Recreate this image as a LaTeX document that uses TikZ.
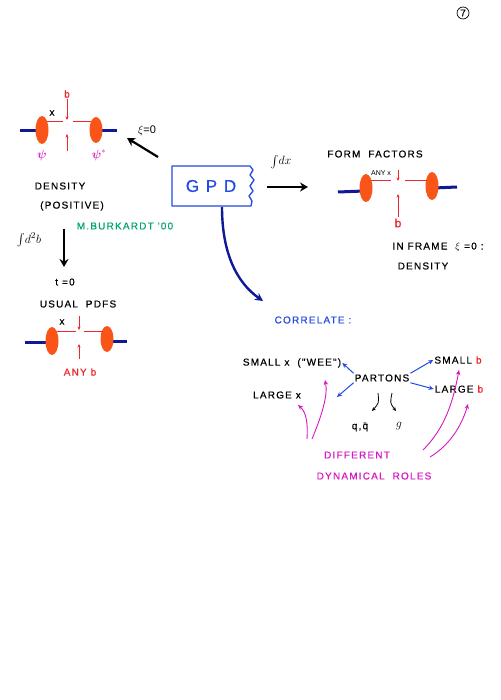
\documentclass[tikz,border=0pt]{standalone}
\usepackage{fontspec}
\setmainfont{Liberation Sans}
\newfontfamily\hand[LetterSpace=12,FakeBold=0.5]{Liberation Sans}
\usepackage{amsmath}
\usetikzlibrary{arrows.meta}
\usetikzlibrary{calc}
\definecolor{qblue}{RGB}{15,25,150}
\definecolor{gblue}{RGB}{35,75,225}
\definecolor{blobc}{RGB}{250,85,25}
\definecolor{rlin}{RGB}{235,40,45}
\definecolor{mgt}{RGB}{215,25,195}
\definecolor{grn}{RGB}{0,165,110}
\tikzset{
  lbl/.style={font=\hand\fontsize{10}{12}\selectfont, inner sep=1pt},
  qline/.style={qblue, line width=3pt},
  blob/.style={fill=blobc},
  rthin/.style={rlin, line width=0.8pt},
  rarr/.style={rlin, line width=0.8pt, -{Stealth[length=3.5pt,width=3pt]}},
  bigarr/.style={black, line width=2.6pt, -{Stealth[length=8pt,width=9pt]}},
  barr/.style={gblue, line width=1pt, -{Stealth[length=5pt,width=4.5pt]}},
  karr/.style={black, line width=0.8pt, -{Stealth[length=4pt,width=3.5pt]}},
  marr/.style={mgt, line width=0.9pt, -{Stealth[length=5pt,width=4.5pt]}}
}
\begin{document}
\begin{tikzpicture}[x=1pt,y=-1pt]
    \useasboundingbox[fill=white] (0,0) rectangle (500,700);
    % page number
    \node[lbl] (pg) at (463,13) {7};
    \draw[line width=0.7pt] (pg.center) circle (6pt);

    % density picture
    \draw[qline] (20,131) -- (40,131);
    \draw[qline] (98,131) -- (117,131);
    \fill[blob] (42,130) ellipse (6.5pt and 14pt);
    \fill[blob] (96,130) ellipse (6.5pt and 13pt);
    \draw[rthin] (47,121) -- (63,121);
    \draw[rthin] (73,121) -- (91,121);
    \node[lbl, rlin] (bA) at (67,94) {b};
    \coordinate (bAtip) at (67,120);
    \coordinate (bAup) at (67,151);
    \coordinate (bAupt) at (67,134);
    \draw[rarr] (bA) -- (bAtip);
    \draw[rarr] (bAup) -- (bAupt);
    \node[lbl] (xA) at (52,113) {x};
    \node[mgt, inner sep=1pt, font=\large] (psiA) at (42,156) {$\boldsymbol{\psi}$};
    \node[mgt, inner sep=1pt, font=\large] (psiB) at (99,155) {$\boldsymbol{\psi}^{*}$};
    \node[lbl, font=\fontsize{11}{12}\selectfont] (xizero) at (147,131) {$\xi$=0};
    \coordinate (xiA) at (158,157);
    \coordinate (xiB) at (127,138);
    \draw[bigarr, line width=2.2pt] (xiA) -- (xiB);
    \node[lbl] (dens) at (60,186) {DENSITY};
    \node[lbl] (posit) at (72,206) {(POSITIVE)};
    \node[lbl, grn] (burk) at (125,226) {M.BURKARDT '00};

    % integral over b
    \node[lbl, font=\fontsize{13}{14}\selectfont] (intb) at (29,240) {$\int\! d^2 b$};
    \coordinate (bdA) at (64,229);
    \coordinate (bdB) at (64,267);
    \draw[bigarr] (bdA) -- (bdB);
    \node[lbl] (tzero) at (65,282) {t =0};
    \node[lbl] (usual) at (78,304) {USUAL \ PDFS};

    % usual pdfs picture
    \draw[qline] (25,342) -- (50,342);
    \draw[qline] (109,341) -- (127,341);
    \fill[blob] (52,341) ellipse (6.5pt and 14pt);
    \fill[blob] (107,339) ellipse (6.5pt and 13pt);
    \draw[rthin] (57,331) -- (76,331);
    \draw[rthin] (84,331) -- (103,331);
    \node[lbl] (xB) at (62,322) {x};
    \coordinate (bBtop) at (79,316);
    \coordinate (bBtip) at (79,330);
    \coordinate (bBup) at (79,359);
    \coordinate (bBupt) at (79,344);
    \draw[rarr] (bBtop) -- (bBtip);
    \draw[rarr] (bBup) -- (bBupt);
    \node[lbl, rlin] (anyb) at (80,372) {ANY b};

    % GPD box
    \node[gblue, font=\hand\fontsize{17}{19}\selectfont, inner sep=0pt] (gpd) at (211,186) {G P D};
    \draw[gblue, line width=1.3pt, line join=round]
        (250,166) -- (172,166) -- (172,206) -- (251,206)
        -- (252,201) -- (249,196) -- (253,191) -- (250,186) -- (254,180)
        -- (250,175) -- (253,170) -- cycle;

    % dx arrow
    \node[lbl, font=\fontsize{12}{13}\selectfont] (intx) at (281,162) {$\int\! dx$};
    \coordinate (dxA) at (267,187);
    \coordinate (dxB) at (308,187);
    \draw[bigarr] (dxA) -- (dxB);

    % form factors picture
    \node[lbl] (ff) at (375,154) {FORM \ FACTORS};
    \draw[qline] (338,192) -- (364,191);
    \draw[qline] (434,188) -- (457,187);
    \fill[blob] (366,188) ellipse (6.5pt and 14pt);
    \fill[blob] (432,186) ellipse (6.5pt and 14pt);
    \draw[rthin] (371,180) -- (391,180);
    \draw[rthin] (405,180) -- (427,180);
    \node[font=\fontsize{7}{8}\selectfont, inner sep=1pt] (anyx) at (381,173) {ANY x};
    \coordinate (bCtop) at (398,170);
    \coordinate (bCtip) at (398,181);
    \draw[rarr] (bCtop) -- (bCtip);
    \node[lbl, rlin, font=\hand\fontsize{12}{13}\selectfont] (bC) at (398,223) {b};
    \coordinate (bCupt) at (398,194);
    \draw[rarr] (bC) -- (bCupt);
    \node[lbl] (frame) at (438,247) {IN FRAME \ $\xi$ =0 :};
    \node[lbl] (dens2) at (423,266) {DENSITY};

    % correlate
    \node[lbl, gblue] (correl) at (313,320) {CORRELATE :};
    \coordinate (gpdout) at (222,207);
    \coordinate (corin) at (263,301);
    \draw[qblue, line width=2.4pt, -{Stealth[length=8pt,width=8pt]}]
        (gpdout) .. controls (222,252) and (236,282) .. (corin);

    \node[lbl] (partons) at (382,378) {PARTONS};
    \node[lbl] (smallx) at (292,363) {SMALL x \ ("WEE")};
    \node[lbl] (largex) at (277,395) {LARGE x};
    \node[lbl] (smallb) at (458,360) {SMALL \textcolor{rlin}{b}};
    \node[lbl] (largeb) at (459,389) {LARGE \textcolor{rlin}{b}};
    \coordinate (lxtip) at (337,397);
    \draw[barr] (partons.north west) -- (smallx.east);
    \draw[barr] (partons.south west) -- (lxtip);
    \draw[barr] (partons.north east) -- (smallb.west);
    \draw[barr] (partons.south east) -- (largeb.west);

    \node[lbl] (qqbar) at (360,427) {q,\={q}};
    \node[lbl, font=\fontsize{13}{14}\selectfont] (glu) at (399,426) {$g$};
    \coordinate (kA) at (378,393);
    \coordinate (kAt) at (372,411);
    \coordinate (kB) at (392,393);
    \coordinate (kBt) at (396,411);
    \draw[karr] (kA) .. controls (379,403) .. (kAt);
    \draw[karr] (kB) .. controls (390,403) .. (kBt);

    % different roles
    \node[lbl, mgt] (diff) at (357,455) {DIFFERENT};
    \node[lbl, mgt] (roles) at (374,476) {DYNAMICAL \ ROLES};
    \coordinate (mA) at (307,439);
    \coordinate (mAt) at (298,405);
    \coordinate (mB) at (312,439);
    \coordinate (mBt) at (325,380);
    \coordinate (mC) at (423,450);
    \coordinate (mCt) at (459,370);
    \coordinate (mD) at (430,457);
    \coordinate (mDt) at (468,404);
    \draw[marr] (mA) .. controls (308,422) and (306,412) .. (mAt);
    \draw[marr] (mB) .. controls (322,415) and (328,395) .. (mBt);
    \draw[marr] (mC) .. controls (445,428) and (453,402) .. (mCt);
    \draw[marr] (mD) .. controls (450,445) and (462,425) .. (mDt);
\end{tikzpicture}
\end{document}
